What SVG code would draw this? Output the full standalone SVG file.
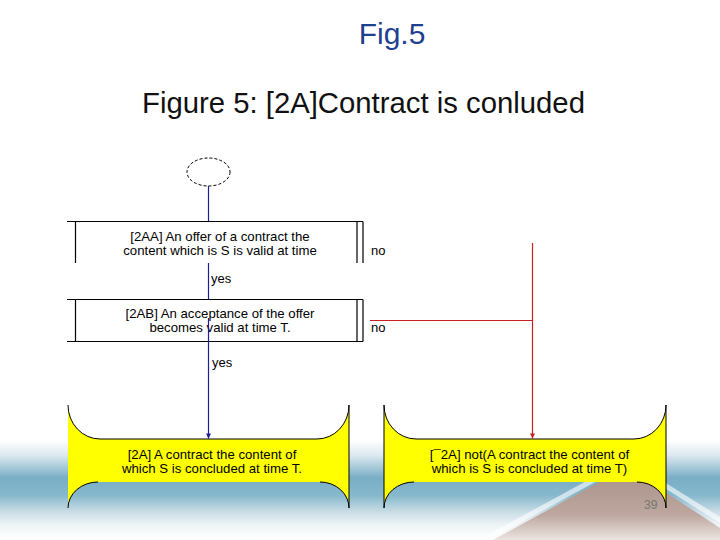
<svg xmlns="http://www.w3.org/2000/svg" width="720" height="540" viewBox="0 0 720 540">
<defs>
<linearGradient id="band" x1="0" y1="0" x2="0" y2="540" gradientUnits="userSpaceOnUse">
<stop offset="0" stop-color="#ffffff"/>
<stop offset="0.815" stop-color="#ffffff"/>
<stop offset="0.843" stop-color="#dce9ef"/>
<stop offset="0.885" stop-color="#79aec6"/>
<stop offset="0.917" stop-color="#86b8cc"/>
<stop offset="0.948" stop-color="#c9dde6"/>
<stop offset="0.972" stop-color="#eef4f7"/>
<stop offset="1" stop-color="#ffffff"/>
</linearGradient>
<linearGradient id="mtn" x1="0" y1="467" x2="0" y2="540" gradientUnits="userSpaceOnUse">
<stop offset="0" stop-color="#a89088"/>
<stop offset="0.65" stop-color="#bca69e"/>
<stop offset="1" stop-color="#ece4e0"/>
</linearGradient>
<marker id="ahBlue" viewBox="0 0 10 10" refX="10" refY="5" markerWidth="9" markerHeight="5" orient="auto" markerUnits="userSpaceOnUse">
<path d="M0,0 L10,5 L0,10 z" fill="#1c1ca0"/>
</marker>
<marker id="ahRed" viewBox="0 0 10 10" refX="10" refY="5" markerWidth="9" markerHeight="5" orient="auto" markerUnits="userSpaceOnUse">
<path d="M0,0 L10,5 L0,10 z" fill="#c82020"/>
</marker>
</defs>
<style>
.t{font-family:"Liberation Sans",Arial,sans-serif;fill:#000}
.box{font-size:13.2px;text-anchor:middle}
.lbl{font-size:13px}
.ln{stroke:#000;stroke-width:1.2;fill:none}
.ban{fill:#ffff00;stroke:none}
.banl{fill:none;stroke:#000;stroke-width:1}
.blue{stroke:#1c1ca0;stroke-width:1.2;fill:none}
.red{stroke:#c82020;stroke-width:1.2;fill:none}
</style>

<g id="background">
<rect x="0" y="0" width="720" height="540" fill="url(#band)"/>
<polygon points="627,467 491,541 740,541" fill="url(#mtn)"/>
<line x1="487" y1="538" x2="623" y2="464" stroke="#ffffff" stroke-width="5" stroke-opacity="0.6"/>
<line x1="631" y1="464" x2="747" y2="537" stroke="#ffffff" stroke-width="5" stroke-opacity="0.6"/>
</g>

<g id="titles">
<text class="t" x="392" y="44" font-size="30" text-anchor="middle" style="fill:#1f3f8f">Fig.5</text>
<text class="t" x="142" y="113" font-size="29.3" style="fill:#111">Figure 5: [2A]Contract is conluded</text>
<text class="t" x="644" y="509" font-size="12" style="fill:#777">39</text>
</g>

<g id="start">
<ellipse cx="208.5" cy="172" rx="21.5" ry="14" fill="none" stroke="#000" stroke-width="1" stroke-dasharray="3,2"/>
</g>

<g id="n2AA">
<path class="ln" d="M67,221.5 H363 M75.5,221.5 V263 M357,221.5 V263 M363,221.5 V263"/>
<text class="t box" x="220" y="241">[2AA] An offer of a contract the</text>
<text class="t box" x="220" y="255">content which is S is valid at time</text>
</g>

<g id="n2AB">
<path class="ln" d="M67,299.5 H363 M67,341.5 H363 M75.5,299.5 V341.5 M357,299.5 V341.5 M363,299.5 V341.5"/>
<text class="t box" x="220" y="318">[2AB] An acceptance of the offer</text>
<text class="t box" x="220" y="332">becomes valid at time T.</text>
</g>

<g id="n2A">
<path class="ban" d="M68,405 A32,34 0 0 0 100,439 H317 A32,34 0 0 0 349,405 V508 A29,26 0 0 0 320,482 H98 A30,26 0 0 0 68,508 Z"/>
<path class="banl" d="M68,405 A32,34 0 0 0 100,439 H317 A32,34 0 0 0 349,405 V508 A29,26 0 0 0 320,482 M98,482 A30,26 0 0 0 68,508"/>
<text class="t box" x="212" y="459">[2A] A contract the content of</text>
<text class="t box" x="212" y="473">which S is concluded at time T.</text>
</g>

<g id="nNot2A">
<path class="ban" d="M384,405 A32,34 0 0 0 416,439 H634 A32,34 0 0 0 666,405 V508 A29,26 0 0 0 637,482 H414 A30,26 0 0 0 384,508 Z"/>
<path class="banl" d="M384,508 V405 A32,34 0 0 0 416,439 H634 A32,34 0 0 0 666,405 V508 A29,26 0 0 0 637,482 M414,482 A30,26 0 0 0 384,508"/>
<text class="t box" x="529.5" y="459">[¯2A] not(A contract the content of</text>
<text class="t box" x="529.5" y="473">which is S is concluded at time T)</text>
</g>

<g id="connectors">
<path class="blue" d="M208.5,186 V221"/>
<path class="blue" d="M208.5,263 V299"/>
<path class="blue" d="M208.5,318 V438.5" marker-end="url(#ahBlue)"/>
<path class="red" d="M370,320.5 H532.5"/>
<path class="red" d="M532.5,243 V438.5" marker-end="url(#ahRed)"/>
<text class="t lbl" x="211" y="283">yes</text>
<text class="t lbl" x="212" y="367">yes</text>
<text class="t lbl" x="371" y="255">no</text>
<text class="t lbl" x="371" y="332">no</text>
</g>
</svg>
